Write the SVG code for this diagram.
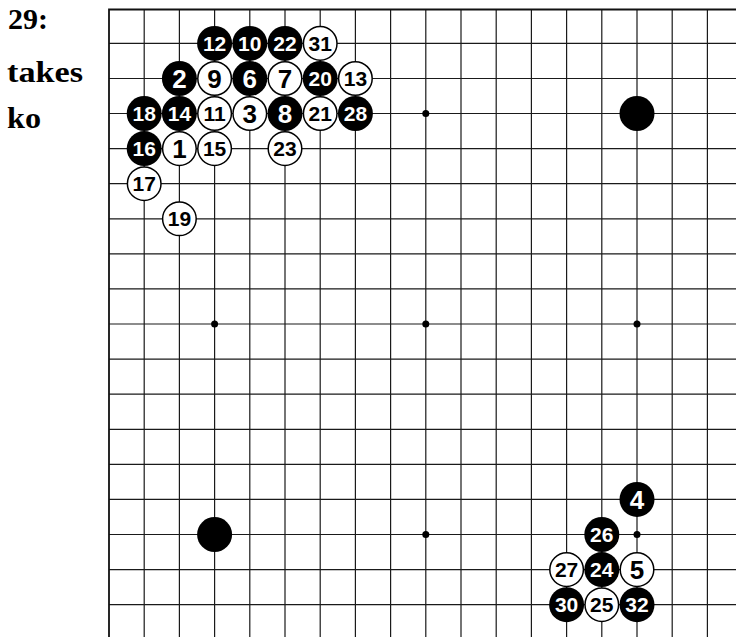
<svg xmlns="http://www.w3.org/2000/svg" width="736" height="637" viewBox="0 0 736 637">
<style>
.g{stroke:#1a1a1a;stroke-width:1.2;fill:none}
.e{stroke:#111;stroke-width:1.8;fill:none}
.star{fill:#000}
.b{fill:#000}
.w{fill:#fff;stroke:#000;stroke-width:1.5}
.t{font-family:"Liberation Sans",Arial,sans-serif;font-weight:bold;text-anchor:middle}
.d{font-size:21px}
.s{font-size:26px}
.tb{fill:#fff}
.tw{fill:#000}
.cap{font-family:"Liberation Serif","Times New Roman",serif;font-weight:bold;font-size:29px;fill:#000}
</style>
<rect width="736" height="637" fill="#fff"/>
<g id="caption">
<text class="cap" x="8" y="29" textLength="40" lengthAdjust="spacingAndGlyphs">29:</text>
<text class="cap" x="7" y="82" textLength="76" lengthAdjust="spacingAndGlyphs">takes</text>
<text class="cap" x="7" y="128" textLength="34" lengthAdjust="spacingAndGlyphs">ko</text>
</g>
<g id="board">
<g class="g">
<path d="M144.2 9.5V637M179.4 9.5V637M214.6 9.5V637M249.8 9.5V637M285 9.5V637M320.2 9.5V637M355.4 9.5V637M390.6 9.5V637M425.8 9.5V637M461 9.5V637M496.2 9.5V637M531.4 9.5V637M566.6 9.5V637M601.8 9.5V637M637 9.5V637M672.2 9.5V637M707.4 9.5V637"/>
<path d="M109 43.4H736M109 78.5H736M109 113.5H736M109 148.6H736M109 183.7H736M109 218.8H736M109 253.9H736M109 288.9H736M109 324H736M109 359.1H736M109 394.2H736M109 429.3H736M109 464.4H736M109 499.4H736M109 534.5H736M109 569.6H736M109 604.7H736"/>
</g>
<path class="e" d="M736 9.5H109V637"/>
<g id="stars">
<circle class="star" cx="425.8" cy="113.5" r="3.5"/>
<circle class="star" cx="214.6" cy="324" r="3.5"/>
<circle class="star" cx="425.8" cy="324" r="3.5"/>
<circle class="star" cx="637" cy="324" r="3.5"/>
<circle class="star" cx="425.8" cy="534.5" r="3.5"/>
<circle class="star" cx="637" cy="534.5" r="3.5"/>
</g>
</g>
<g id="stones">
<g id="s12"><circle class="b" cx="214.6" cy="43.4" r="17.5"/><text class="t d tb" x="214.6" y="50.9">12</text></g>
<g id="s10"><circle class="b" cx="249.8" cy="43.4" r="17.5"/><text class="t d tb" x="249.8" y="50.9">10</text></g>
<g id="s22"><circle class="b" cx="285" cy="43.4" r="17.5"/><text class="t d tb" x="285" y="50.9">22</text></g>
<g id="s31"><circle class="w" cx="320.2" cy="43.4" r="16.8"/><text class="t d tw" x="320.2" y="50.9">31</text></g>

<g id="s2"><circle class="b" cx="179.4" cy="78.5" r="17.5"/><text class="t s tb" x="179.4" y="87.8">2</text></g>
<g id="s9"><circle class="w" cx="214.6" cy="78.5" r="16.8"/><text class="t s tw" x="214.6" y="87.8">9</text></g>
<g id="s6"><circle class="b" cx="249.8" cy="78.5" r="17.5"/><text class="t s tb" x="249.8" y="87.8">6</text></g>
<g id="s7"><circle class="w" cx="285" cy="78.5" r="16.8"/><text class="t s tw" x="285" y="87.8">7</text></g>
<g id="s20"><circle class="b" cx="320.2" cy="78.5" r="17.5"/><text class="t d tb" x="320.2" y="86">20</text></g>
<g id="s13"><circle class="w" cx="355.4" cy="78.5" r="16.8"/><text class="t d tw" x="355.4" y="86">13</text></g>

<g id="s18"><circle class="b" cx="144.2" cy="113.5" r="17.5"/><text class="t d tb" x="144.2" y="121">18</text></g>
<g id="s14"><circle class="b" cx="179.4" cy="113.5" r="17.5"/><text class="t d tb" x="179.4" y="121">14</text></g>
<g id="s11"><circle class="w" cx="214.6" cy="113.5" r="16.8"/><text class="t d tw" x="214.6" y="121">11</text></g>
<g id="s3"><circle class="w" cx="249.8" cy="113.5" r="16.8"/><text class="t s tw" x="249.8" y="122.8">3</text></g>
<g id="s8"><circle class="b" cx="285" cy="113.5" r="17.5"/><text class="t s tb" x="285" y="122.8">8</text></g>
<g id="s21"><circle class="w" cx="320.2" cy="113.5" r="16.8"/><text class="t d tw" x="320.2" y="121">21</text></g>
<g id="s28"><circle class="b" cx="355.4" cy="113.5" r="17.5"/><text class="t d tb" x="355.4" y="121">28</text></g>
<g id="stoneA"><circle class="b" cx="637" cy="113.5" r="17.5"/></g>

<g id="s16"><circle class="b" cx="144.2" cy="148.6" r="17.5"/><text class="t d tb" x="144.2" y="156.1">16</text></g>
<g id="s1"><circle class="w" cx="179.4" cy="148.6" r="16.8"/><text class="t s tw" x="179.4" y="157.9">1</text></g>
<g id="s15"><circle class="w" cx="214.6" cy="148.6" r="16.8"/><text class="t d tw" x="214.6" y="156.1">15</text></g>
<g id="s23"><circle class="w" cx="285" cy="148.6" r="16.8"/><text class="t d tw" x="285" y="156.1">23</text></g>

<g id="s17"><circle class="w" cx="144.2" cy="183.7" r="16.8"/><text class="t d tw" x="144.2" y="191.2">17</text></g>
<g id="s19"><circle class="w" cx="179.4" cy="218.8" r="16.8"/><text class="t d tw" x="179.4" y="226.3">19</text></g>

<g id="s4"><circle class="b" cx="637" cy="499.4" r="17.5"/><text class="t s tb" x="637" y="508.7">4</text></g>
<g id="s26"><circle class="b" cx="601.8" cy="534.5" r="17.5"/><text class="t d tb" x="601.8" y="542">26</text></g>
<g id="stoneB"><circle class="b" cx="214.6" cy="534.5" r="17.5"/></g>

<g id="s27"><circle class="w" cx="566.6" cy="569.6" r="16.8"/><text class="t d tw" x="566.6" y="577.1">27</text></g>
<g id="s24"><circle class="b" cx="601.8" cy="569.6" r="17.5"/><text class="t d tb" x="601.8" y="577.1">24</text></g>
<g id="s5"><circle class="w" cx="637" cy="569.6" r="16.8"/><text class="t s tw" x="637" y="578.9">5</text></g>

<g id="s30"><circle class="b" cx="566.6" cy="604.7" r="17.5"/><text class="t d tb" x="566.6" y="612.2">30</text></g>
<g id="s25"><circle class="w" cx="601.8" cy="604.7" r="16.8"/><text class="t d tw" x="601.8" y="612.2">25</text></g>
<g id="s32"><circle class="b" cx="637" cy="604.7" r="17.5"/><text class="t d tb" x="637" y="612.2">32</text></g>
</g>
</svg>
